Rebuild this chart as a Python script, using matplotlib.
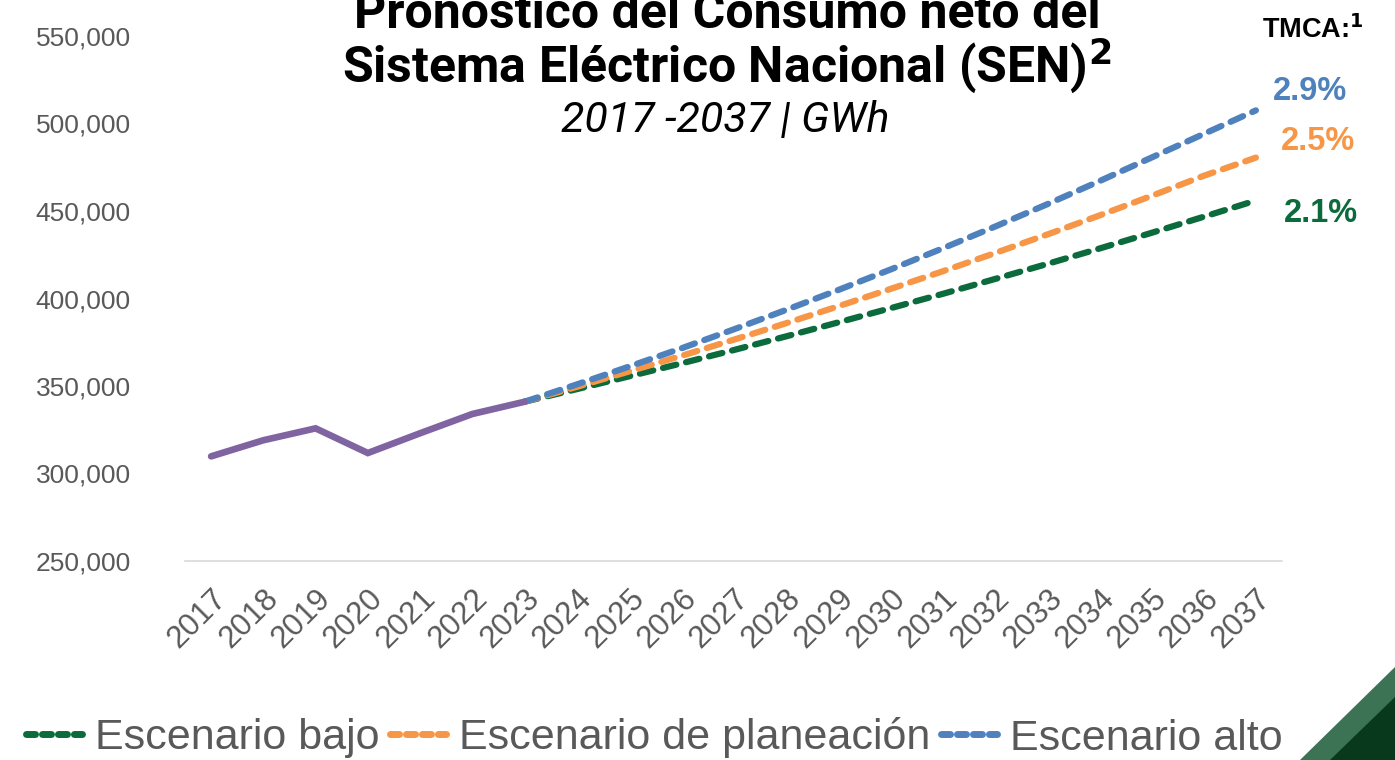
import matplotlib
matplotlib.use("Agg")
import matplotlib.pyplot as plt
from matplotlib.lines import Line2D
from matplotlib.patches import Polygon

years = [str(y) for y in range(2017, 2038)]
historico = [309800, 319000, 325800, 311700, 323000, 334000, 341000]
bajo = [341000, 348200, 355500, 362900, 370500, 378300, 386300, 394400,
        402600, 411100, 419700, 428500, 437500, 446700, 456000]
planeacion = [341000, 349500, 358300, 367200, 376400, 385800, 395500, 405400,
              415500, 425900, 436500, 447400, 458600, 470100, 480500]
alto = [341000, 350900, 361100, 371500, 382300, 393400, 404800, 416500,
        428600, 441000, 453800, 467000, 480500, 494000, 507500]
tmca = ["2.1%", "2.5%", "2.9%"]
yticks = [250000, 300000, 350000, 400000, 450000, 500000, 550000]

C_GREEN = "#0B6B3C"
C_ORANGE = "#F79646"
C_BLUE = "#4F81BD"
C_PURPLE = "#8064A2"
C_GRAY = "#595959"

fig = plt.figure(figsize=(13.95, 7.6), dpi=100)
ax = fig.add_axes([185/1395, 1-561/760, (1282-185)/1395, (561-36)/760])

x_hist = list(range(len(historico)))
x_fc = list(range(6, 6 + len(bajo)))
dash = dict(linestyle=(0, (2.2, 1.6)), lw=4.5, dash_capstyle="round", solid_capstyle="round")
ax.plot(x_fc, bajo, color=C_GREEN, **dash, zorder=3)
ax.plot(x_fc, planeacion, color=C_ORANGE, **dash, zorder=4)
ax.plot(x_fc, alto, color=C_BLUE, **dash, zorder=5)
ax.plot(x_hist, historico, color=C_PURPLE, lw=4.8, solid_capstyle="round",
        solid_joinstyle="miter", zorder=6)

ax.set_xlim(-0.5, len(years) - 0.5)
ax.set_ylim(250000, 550000)
ax.set_yticks(yticks)
ax.set_yticklabels([f"{v:,}" for v in yticks], fontsize=19, color=C_GRAY,
                   family="Liberation Sans")
ax.set_xticks(range(len(years)))
ax.set_xticklabels(years, rotation=45, ha="right", rotation_mode="anchor",
                   fontsize=22.5, color=C_GRAY, family="Liberation Sans")
ax.tick_params(axis="both", length=0)
ax.tick_params(axis="y", pad=39)
ax.tick_params(axis="x", pad=16)
for s in ["top", "right", "left"]:
    ax.spines[s].set_visible(False)
ax.spines["bottom"].set_color("#D9D9D9")
ax.spines["bottom"].set_linewidth(1.2)

# Title
fig.text(727/1395, 1-14/760, "Pronóstico del Consumo neto del", ha="center", va="center",
         fontsize=36, fontweight="bold", family="Roboto", color="black")
fig.text(727/1395, 1-66/760, "Sistema Eléctrico Nacional (SEN)$^{\\mathbf{2}}$", ha="center",
         va="center", fontsize=36, fontweight="bold", family="Roboto", color="black")
fig.text(725/1395, 1-121/760, "2017 -2037 | GWh", ha="center", va="center",
         fontsize=31, fontstyle="italic", family="Roboto", color="black")

# TMCA labels
fig.text(1313/1395, 1-30/760, "TMCA:$^{\\mathbf{1}}$", ha="center", va="center",
         fontsize=19.5, fontweight="bold", family="Liberation Sans", color="black")
fig.text(1310/1395, 1-91/760, tmca[2], ha="center", va="center",
         fontsize=23.5, fontweight="bold", family="Liberation Sans", color=C_BLUE)
fig.text(1318/1395, 1-141/760, tmca[1], ha="center", va="center",
         fontsize=23.5, fontweight="bold", family="Liberation Sans", color=C_ORANGE)
fig.text(1321/1395, 1-213/760, tmca[0], ha="center", va="center",
         fontsize=23.5, fontweight="bold", family="Liberation Sans", color=C_GREEN)

# Legend
handles = [Line2D([], [], color=c, lw=5, linestyle=(0, (1.3, 1.0)), dash_capstyle="round")
           for c in (C_GREEN, C_ORANGE, C_BLUE)]
labels = ["Escenario bajo", "Escenario de planeación", "Escenario alto"]
leg = fig.legend(handles, labels, loc="center", bbox_to_anchor=(654/1395, 1-738/760),
                 ncol=3, frameon=False, handlelength=1.3,
                 handletextpad=0.3, columnspacing=0.25, borderaxespad=0,
                 prop={"family": "Liberation Sans", "size": 31})
for t in leg.get_texts():
    t.set_color(C_GRAY)

# Decorative corner
W, H = 1395, 760
fig.patches.append(Polygon([(1300/W, 0), (1, 93/H), (1, 0)], closed=True,
                           transform=fig.transFigure, facecolor="#3D7355", edgecolor="none"))
fig.patches.append(Polygon([(1330/W, 0), (1, 63/H), (1, 0)], closed=True,
                           transform=fig.transFigure, facecolor="#08391D", edgecolor="none"))

fig.savefig("out.png", dpi=100)
